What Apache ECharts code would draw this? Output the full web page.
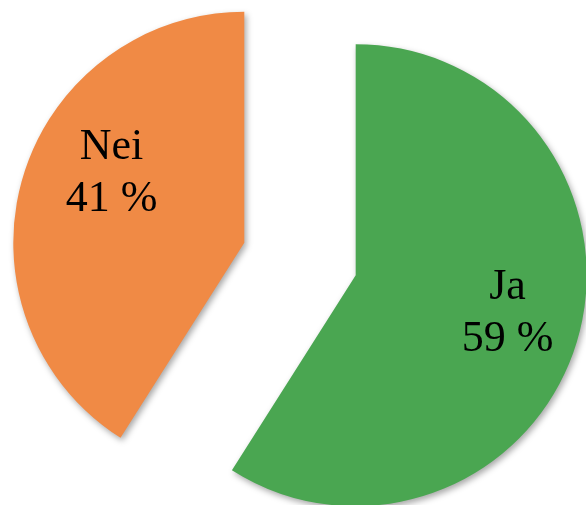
<!DOCTYPE html>
<html>
<head>
<meta charset="utf-8">
<script src="https://cdn.jsdelivr.net/npm/echarts@6/dist/echarts.min.js"></script>
<style>
  html, body { margin: 0; padding: 0; background: #fff; }
  #chart { width: 586px; height: 505px; }
</style>
</head>
<body>
<div id="chart"></div>
<script>
// svar
var answers = ['Ja', 'Nei'];
var shares = [59, 41];
var colors = ['#4aa651', '#f08a45'];

var chart = echarts.init(document.getElementById('chart'));

var pieData = answers.map(function (name, i) {
  return { name: name, value: shares[i], selected: true, itemStyle: { color: colors[i] } };
});

// flytt etikettene litt ut fra standardplassen
var labelShift = [[38, 5], [-19, -36]];

var option = {
  animation: false,
  series: [{
    type: 'pie',
    center: [300, 259],
    radius: 231,
    startAngle: 90,
    clockwise: true,
    selectedMode: 'multiple',
    selectedOffset: 58,
    emphasis: { disabled: true },
    itemStyle: {
      borderWidth: 0,
      shadowBlur: 6,
      shadowOffsetX: 2,
      shadowOffsetY: 3,
      shadowColor: 'rgba(0,0,0,0.35)'
    },
    label: {
      show: true,
      position: 'inside',
      color: '#000',
      fontFamily: 'Liberation Serif',
      fontSize: 44,
      lineHeight: 52,
      textBorderWidth: 0,
      formatter: function (p) { return p.name + '\n' + p.value + ' %'; }
    },
    labelLine: { show: false },
    labelLayout: function (p) {
      return { dx: labelShift[p.dataIndex][0], dy: labelShift[p.dataIndex][1] };
    },
    data: pieData
  }]
};

chart.setOption(option);
</script>
</body>
</html>
